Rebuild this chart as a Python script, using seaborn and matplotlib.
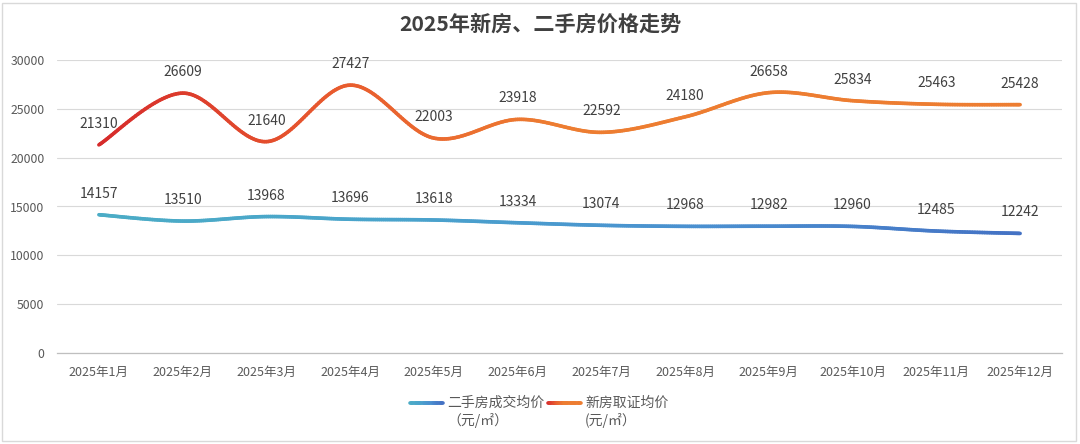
import numpy as np
import matplotlib
matplotlib.use('Agg')
import matplotlib.pyplot as plt
import seaborn as sns
from matplotlib.collections import LineCollection
from matplotlib.patches import Rectangle

# data
months = ['2025年1月', '2025年2月', '2025年3月', '2025年4月', '2025年5月', '2025年6月',
          '2025年7月', '2025年8月', '2025年9月', '2025年10月', '2025年11月', '2025年12月']
second_hand = [14157, 13510, 13968, 13696, 13618, 13334, 13074, 12968, 12982, 12960, 12485, 12242]
new_house = [21310, 26609, 21640, 27427, 22003, 23918, 22592, 24180, 26658, 25834, 25463, 25428]
legend_labels = [('二手房成交均价', '（元/㎡）'), ('新房取证均价', '(元/㎡）')]
title = '2025年新房、二手房价格走势'

sns.set_theme(style='white')
plt.rcParams['font.family'] = ['Noto Sans CJK SC', 'DejaVu Sans']

text_dark = '#404040'
text_gray = '#595959'

# gradients along the lines
new_cmap = sns.blend_palette(['#d62b2b', '#e85a2e', '#ed7d31', '#ed7d31', '#ed7d31'], as_cmap=True)
old_cmap = sns.blend_palette(['#4bacc6', '#4aa3cc', '#4a8fd0', '#4472c4'], as_cmap=True)


def smooth(values, n=40):
    # Catmull-Rom style bezier, like the spreadsheet smoothed line
    y = np.asarray(values, dtype=float)
    x = np.arange(len(y), dtype=float)
    pts = np.column_stack([x, y])
    out = []
    for i in range(len(pts) - 1):
        p0 = pts[max(i - 1, 0)]
        p1 = pts[i]
        p2 = pts[i + 1]
        p3 = pts[min(i + 2, len(pts) - 1)]
        c1 = p1 + (p2 - p0) / 6
        c2 = p2 - (p3 - p1) / 6
        t = np.linspace(0, 1, n, endpoint=(i == len(pts) - 2))[:, None]
        seg = ((1 - t) ** 3) * p1 + 3 * ((1 - t) ** 2) * t * c1 + 3 * (1 - t) * t ** 2 * c2 + t ** 3 * p2
        out.append(seg)
    return np.vstack(out)


def gradient_line(ax, values, cmap, lw=2.6):
    curve = smooth(values)
    segs = np.stack([curve[:-1], curve[1:]], axis=1)
    pos = (curve[:-1, 0] + curve[1:, 0]) / 2 / (len(values) - 1)
    lc = LineCollection(segs, colors=cmap(pos), linewidths=lw, capstyle='round', zorder=3)
    ax.add_collection(lc)


fig = plt.figure(figsize=(10.8, 4.44), dpi=100)
ax = fig.add_axes([57 / 1080, 1 - 353 / 444, (1062 - 57) / 1080, (353 - 60) / 444])

gradient_line(ax, second_hand, old_cmap)
gradient_line(ax, new_house, new_cmap)

for series in (second_hand, new_house):
    for i, v in enumerate(series):
        ax.annotate(f'{v}', (i, v), xytext=(0, 21), textcoords='offset pixels',
                    ha='center', va='center', fontsize=10, color=text_dark)

ax.set_xlim(-0.5, len(months) - 0.5)
ax.set_ylim(0, 30000)
ax.set_yticks(range(0, 30001, 5000))
ax.set_yticklabels([str(v) for v in range(0, 30001, 5000)])
ax.set_xticks(range(len(months)))
ax.set_xticklabels(months)
ax.set_xticks(np.arange(-0.5, len(months), 1), minor=True)
ax.tick_params(axis='x', which='major', length=0, pad=9, labelsize=9, labelcolor=text_gray)
ax.tick_params(axis='x', which='minor', length=5, width=0.8, color='#bfbfbf', direction='out')
ax.tick_params(axis='y', length=0, pad=9, labelsize=8.8, labelcolor=text_gray)
ax.grid(axis='y', color='#d9d9d9', linewidth=0.8)
ax.grid(axis='x', visible=False)
for s in ['top', 'right', 'left']:
    ax.spines[s].set_visible(False)
ax.spines['bottom'].set_color('#bfbfbf')
ax.spines['bottom'].set_linewidth(0.9)

fig.text(540 / 1080, 1 - 24 / 444, title, ha='center', va='center',
         fontsize=15.2, fontweight='bold', color=text_dark)

# legend drawn by hand so the handle sits on the first text line
handles = [(410, 443, 447, old_cmap), (548, 581, 585, new_cmap)]
for (x0, x1, tx, cmap), (l1, l2) in zip(handles, legend_labels):
    xs = np.linspace(x0, x1, 30) / 1080
    ys = np.full_like(xs, 1 - 403 / 444)
    pts = np.column_stack([xs, ys])
    lc = LineCollection(np.stack([pts[:-1], pts[1:]], axis=1), colors=cmap(np.linspace(0, 1, 29)),
                        linewidths=2.6, capstyle='round', transform=fig.transFigure)
    fig.add_artist(lc)
    fig.text(tx / 1080, 1 - 403 / 444, l1, ha='left', va='center', fontsize=10, color=text_gray)
    fig.text(tx / 1080, 1 - 420 / 444, l2, ha='left', va='center', fontsize=10, color=text_gray)

fig.add_artist(Rectangle((2 / 1080, 3 / 444), 1074 / 1080, 438 / 444, transform=fig.transFigure,
                         fill=False, edgecolor='#d9d9d9', linewidth=1))

fig.savefig('out.png', dpi=100)
